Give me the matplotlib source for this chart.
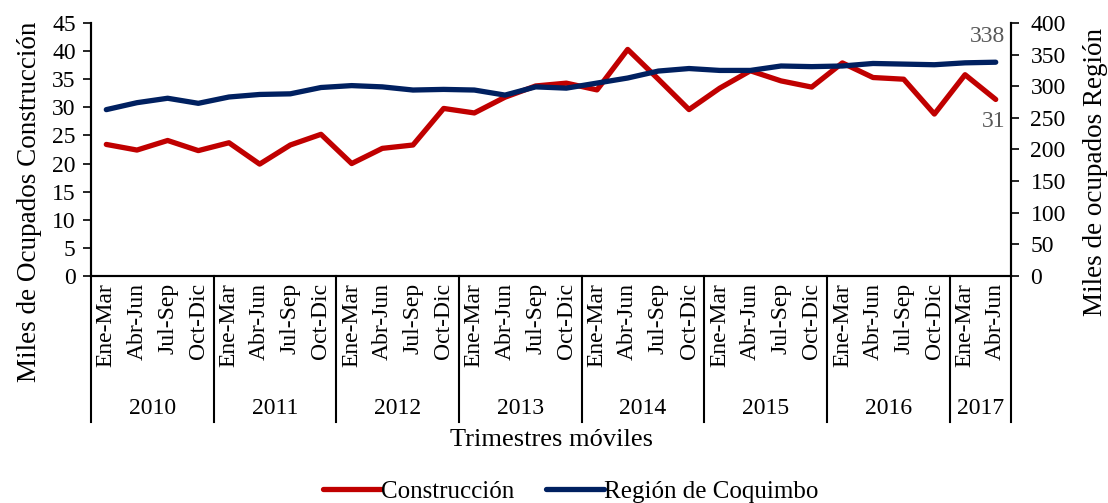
import matplotlib
matplotlib.use('Agg')
import matplotlib.pyplot as plt
import matplotlib.transforms as mtransforms
import numpy as np

plt.rcParams['font.family'] = ['Liberation Serif', 'DejaVu Serif']

# Data
years = ['2010', '2011', '2012', '2013', '2014', '2015', '2016', '2017']
quarters = ['Ene-Mar', 'Abr-Jun', 'Jul-Sep', 'Oct-Dic']
n_per_year = [4, 4, 4, 4, 4, 4, 4, 2]

construccion = [23.4, 22.4, 24.1, 22.3, 23.7, 19.9, 23.3, 25.2,
                20.0, 22.7, 23.3, 29.8, 29.0, 31.8, 33.8, 34.3,
                33.1, 40.3, 35.0, 29.6, 33.4, 36.5, 34.7, 33.6,
                37.9, 35.3, 35.0, 28.8, 35.8, 31.4]
region = [263, 274, 281, 273, 283, 287, 288, 298,
          301, 299, 294, 295, 294, 286, 299, 297,
          305, 313, 324, 328, 325, 325, 332, 331,
          332, 336, 335, 334, 337, 338]

labels = [q for n in n_per_year for q in quarters[:n]]
x = np.arange(len(labels))

red = '#C00000'
blue = '#002060'
fs = 17

fig = plt.figure(figsize=(11.08, 5.03), dpi=100)
ax = fig.add_axes([0.0821, 0.4513, 0.8304, 0.5030])
ax2 = ax.twinx()

l1, = ax.plot(x, construccion, color=red, lw=3.8, solid_capstyle='round', zorder=3)
l2, = ax2.plot(x, region, color=blue, lw=3.8, solid_capstyle='round', zorder=2)

ax.set_xlim(-0.5, len(x) - 0.5)
ax.set_ylim(0, 45)
ax.set_yticks(np.arange(0, 46, 5))
ax2.set_ylim(0, 400)
ax2.set_yticks(np.arange(0, 401, 50))

ax.set_xticks(x)
ax.set_xticklabels(labels, rotation=90, fontsize=fs, va='top')
ax.tick_params(axis='x', length=0, pad=5)
ax.tick_params(axis='y', labelsize=fs, length=6, width=1.2, direction='out', pad=5)
ax2.tick_params(axis='y', labelsize=fs, length=6, width=1.2, direction='out', pad=8)

for a in (ax, ax2):
    a.spines['top'].set_visible(False)
    for s in ('left', 'right', 'bottom'):
        a.spines[s].set_linewidth(1.5)

fig.text(30 / 1108, 1 - 202 / 503, 'Miles de Ocupados Construcción', rotation=90,
         ha='center', va='center', fontsize=19.5)
fig.text(1095 / 1108, 1 - 172 / 503, 'Miles de ocupados Región', rotation=90,
         ha='center', va='center', fontsize=19.5)

# year grouping below the quarter labels
trans = mtransforms.blended_transform_factory(ax.transData, ax.transAxes)
sep_bottom = -0.578
start = 0
bounds = [-0.5]
for yr, n in zip(years, n_per_year):
    mid = start + (n - 1) / 2
    ax.text(mid, -0.525, yr, transform=trans, ha='center', va='center', fontsize=fs)
    start += n
    bounds.append(start - 0.5)
for b in bounds:
    ax.plot([b, b], [0, sep_bottom], transform=trans, color='black', lw=1.5, clip_on=False)

ax.text(0.5, -0.65, 'Trimestres móviles', transform=ax.transAxes,
        ha='center', va='center', fontsize=19)

# end labels
ax2.annotate(f'{region[-1]:.0f}', (x[-1], region[-1]), xytext=(7, 11), textcoords='offset points',
             ha='right', va='bottom', fontsize=fs, color='#595959')
ax.annotate(f'{construccion[-1]:.0f}', (x[-1], construccion[-1]), xytext=(7, -8), textcoords='offset points',
            ha='right', va='top', fontsize=fs, color='#595959')

fig.legend([l1, l2], ['Construcción', 'Región de Coquimbo'], loc='center',
           bbox_to_anchor=(0.515, 0.022), ncol=2, frameon=False, fontsize=18,
           handlelength=2.3, handletextpad=0.0, columnspacing=1.3)

plt.savefig('out.png', dpi=100)
